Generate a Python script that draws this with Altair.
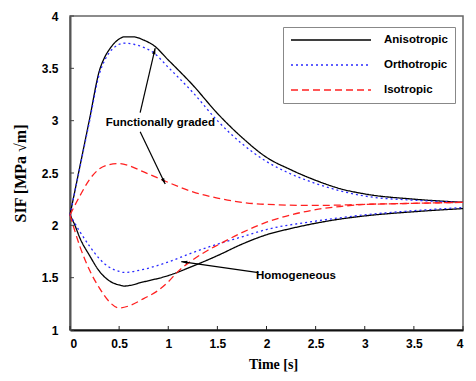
import altair as alt
import pandas as pd
import numpy as np

series = ["Anisotropic", "Orthotropic", "Isotropic"]
colors = ["#000000", "#2a2aff", "#ff2020"]
dashes = [[1, 0], [2, 3], [7, 4]]

# Functionally graded curves
fg_aniso_t = [0, 0.1, 0.2, 0.3, 0.35, 0.4, 0.45, 0.5, 0.55, 0.65, 0.75, 0.85, 1.0, 1.25, 1.5, 1.75, 2.0, 2.25, 2.5, 2.75, 3.0, 3.5, 4.0]
fg_aniso_v = [2.1, 2.56, 3.02, 3.48, 3.6, 3.68, 3.74, 3.78, 3.8, 3.8, 3.77, 3.72, 3.58, 3.34, 3.07, 2.84, 2.65, 2.53, 2.43, 2.35, 2.3, 2.25, 2.22]
fg_ortho_t = [0, 0.1, 0.2, 0.3, 0.35, 0.4, 0.45, 0.5, 0.55, 0.65, 0.75, 0.85, 1.0, 1.25, 1.5, 1.75, 2.0, 2.25, 2.5, 2.75, 3.0, 3.5, 4.0]
fg_ortho_v = [2.1, 2.55, 3.0, 3.45, 3.57, 3.65, 3.7, 3.73, 3.74, 3.73, 3.7, 3.65, 3.51, 3.27, 3.0, 2.78, 2.61, 2.49, 2.4, 2.33, 2.28, 2.24, 2.22]
fg_iso_t = [0, 0.1, 0.2, 0.3, 0.4, 0.5, 0.6, 0.75, 0.9, 1.0, 1.25, 1.5, 1.75, 2.0, 2.5, 3.0, 3.5, 4.0]
fg_iso_v = [2.1, 2.28, 2.44, 2.54, 2.58, 2.59, 2.57, 2.51, 2.45, 2.41, 2.32, 2.26, 2.22, 2.2, 2.19, 2.2, 2.21, 2.22]

# Homogeneous curves
ho_aniso_t = [0, 0.05, 0.1, 0.2, 0.3, 0.4, 0.5, 0.55, 0.75, 1.0, 1.25, 1.5, 1.75, 2.0, 2.25, 2.5, 2.75, 3.0, 3.5, 4.0]
ho_aniso_v = [2.1, 2.0, 1.88, 1.71, 1.56, 1.47, 1.43, 1.42, 1.46, 1.52, 1.61, 1.71, 1.82, 1.91, 1.97, 2.02, 2.06, 2.09, 2.13, 2.16]
ho_ortho_t = [0, 0.1, 0.2, 0.3, 0.4, 0.5, 0.55, 0.75, 1.0, 1.25, 1.5, 1.75, 2.0, 2.5, 3.0, 3.5, 4.0]
ho_ortho_v = [2.1, 1.94, 1.8, 1.68, 1.6, 1.56, 1.55, 1.58, 1.65, 1.74, 1.82, 1.89, 1.96, 2.04, 2.1, 2.14, 2.17]
ho_iso_t = [0, 0.1, 0.2, 0.3, 0.4, 0.5, 0.6, 0.75, 0.9, 1.0, 1.1, 1.25, 1.4, 1.5, 1.75, 2.0, 2.25, 2.5, 2.75, 3.0, 3.5, 4.0]
ho_iso_v = [2.1, 1.8, 1.57, 1.4, 1.27, 1.21, 1.23, 1.3, 1.38, 1.46, 1.56, 1.67, 1.76, 1.81, 1.93, 2.03, 2.1, 2.15, 2.18, 2.2, 2.21, 2.22]

x_ticks = [0, 0.5, 1, 1.5, 2, 2.5, 3, 3.5, 4]
y_ticks = [1, 1.5, 2, 2.5, 3, 3.5, 4]

# Annotations: text labels and arrows (start -> tip), in data units
ann_text = ["Functionally graded", "Homogeneous"]
ann_x = [0.92, 2.30]
ann_y = [2.98, 1.52]
arrow_x0 = [0.714, 0.714, 1.918]
arrow_y0 = [3.077, 2.894, 1.548]
arrow_x1 = [0.867, 0.969, 1.133]
arrow_y1 = [3.692, 2.394, 1.654]

W, H = 393, 314
XMAX, YMIN, YMAX = 4.0, 1.0, 4.0

rows = []
for name, grp, t, v in [
    ("Anisotropic", "FG", fg_aniso_t, fg_aniso_v),
    ("Orthotropic", "FG", fg_ortho_t, fg_ortho_v),
    ("Isotropic", "FG", fg_iso_t, fg_iso_v),
    ("Anisotropic", "HO", ho_aniso_t, ho_aniso_v),
    ("Orthotropic", "HO", ho_ortho_t, ho_ortho_v),
    ("Isotropic", "HO", ho_iso_t, ho_iso_v),
]:
    for a, b in zip(t, v):
        rows.append({"series": name, "group": grp, "t": a, "sif": b})
df = pd.DataFrame(rows)

xs = alt.Scale(domain=[0, XMAX], nice=False, zero=False)
ys = alt.Scale(domain=[YMIN, YMAX], nice=False, zero=False)

lines = alt.Chart(df).mark_line(interpolate="monotone", strokeWidth=1.3).encode(
    x=alt.X("t:Q", scale=xs, axis=alt.Axis(
        values=x_ticks, format=".1~f", title="Time [s]",
        titleFont="Liberation Serif", titleFontSize=14, titleFontWeight="bold",
        titleX=203, titleY=34, titleBaseline="middle",
        labelFont="Liberation Sans", labelFontSize=12, labelFontWeight="bold",
        labelPadding=8, tickSize=0, domainColor="#111111", domainWidth=2,
        labelColor="#000000", titleColor="#000000", grid=False)),
    y=alt.Y("sif:Q", scale=ys, axis=alt.Axis(
        values=y_ticks, format=".1~f", title="SIF [MPa √m]",
        titleFont="Liberation Serif", titleFontSize=16, titleFontWeight="bold",
        titleX=-50, titleY=H / 2, titleAngle=-90, titleAlign="center", titleBaseline="middle",
        labelFont="Liberation Sans", labelFontSize=12, labelFontWeight="bold",
        labelPadding=12, tickSize=0, domainColor="#555555", domainWidth=2,
        labelColor="#000000", titleColor="#000000", grid=False)),
    color=alt.Color("series:N", scale=alt.Scale(domain=series, range=colors), title=None,
                    sort=series),
    strokeDash=alt.StrokeDash("series:N", scale=alt.Scale(domain=series, range=dashes), title=None,
                              sort=series),
    detail="group:N",
)

# inward tick marks
xt = pd.DataFrame({"t": x_ticks, "y0": [YMIN] * len(x_ticks), "y1": [YMIN + 4 * (YMAX - YMIN) / H] * len(x_ticks)})
yt = pd.DataFrame({"v": y_ticks, "x0": [0] * len(y_ticks), "x1": [4 * XMAX / W] * len(y_ticks)})
xtick = alt.Chart(xt).mark_rule(color="#222222", strokeWidth=1).encode(
    x=alt.X("t:Q", scale=xs), y=alt.Y("y0:Q", scale=ys), y2="y1:Q")
ytick = alt.Chart(yt).mark_rule(color="#444444", strokeWidth=1).encode(
    y=alt.Y("v:Q", scale=ys), x=alt.X("x0:Q", scale=xs), x2="x1:Q")

# arrows
sx = W / XMAX
sy = H / (YMAX - YMIN)
ang = []
for a0, b0, a1, b1 in zip(arrow_x0, arrow_y0, arrow_x1, arrow_y1):
    dx = (a1 - a0) * sx
    dy = -(b1 - b0) * sy
    ang.append(float(np.degrees(np.arctan2(dx, -dy)) % 360))
arr = pd.DataFrame({"x0": arrow_x0, "y0": arrow_y0, "x1": arrow_x1, "y1": arrow_y1, "ang": ang})
arrow_lines = alt.Chart(arr).mark_rule(color="#000000", strokeWidth=1.2).encode(
    x=alt.X("x0:Q", scale=xs), y=alt.Y("y0:Q", scale=ys), x2="x1:Q", y2="y1:Q")
arrow_heads = alt.Chart(arr).mark_point(
    shape="M0,0 L-0.55,2 L0.55,2 Z", filled=True, color="#000000", size=36, opacity=1
).encode(x=alt.X("x1:Q", scale=xs), y=alt.Y("y1:Q", scale=ys), angle=alt.Angle("ang:Q", scale=None))

tx = pd.DataFrame({"label": ann_text, "x": ann_x, "y": ann_y})
texts = alt.Chart(tx).mark_text(font="Liberation Sans", fontSize=11.5, fontWeight="bold",
                                color="#000000", align="center", baseline="middle").encode(
    x=alt.X("x:Q", scale=xs), y=alt.Y("y:Q", scale=ys), text="label:N")

chart = alt.layer(lines, xtick, ytick, arrow_lines, arrow_heads, texts).properties(
    width=W, height=H,
    autosize=alt.AutoSizeParams(type="none"),
    padding={"left": 62, "top": 8, "right": 5, "bottom": 50},
).configure_view(
    stroke="#666666", strokeWidth=1.5
).configure_legend(
    orient="none", legendX=213, legendY=11,
    fillColor="#ffffff", strokeColor="#888888", padding=7,
    symbolType="M-1,0H15", symbolSize=100, symbolStrokeWidth=1.6,
    labelFont="Liberation Sans", labelFontSize=11.5, labelFontWeight="bold",
    labelColor="#000000", labelOffset=82, rowPadding=13, symbolLimit=0,
)

chart.save("out.html", embed_options={"renderer": "svg", "actions": False})
